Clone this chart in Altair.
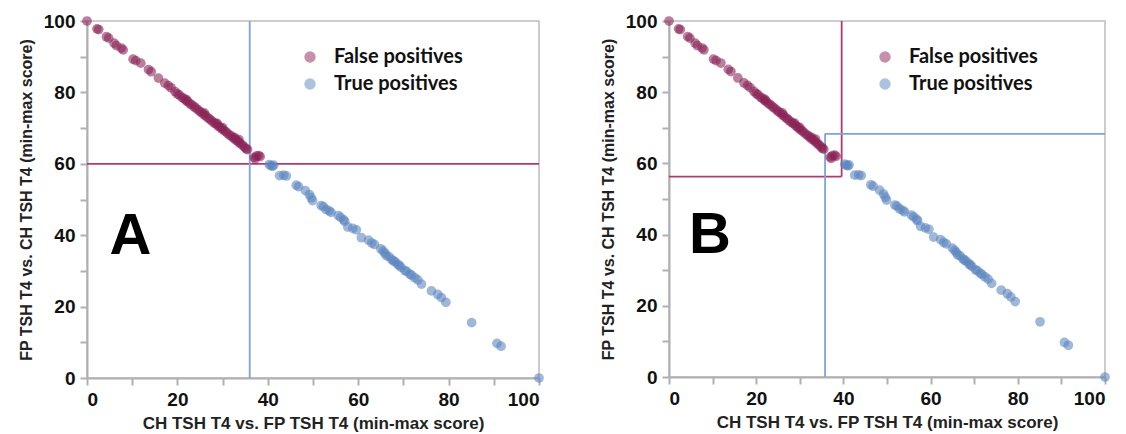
import altair as alt
import pandas as pd

# ---------------- data ----------------
fp_x = [0.0, 2.2, 2.6, 4.3, 4.8, 6.0, 6.5, 7.6, 8.0, 10.2, 10.8, 11.9, 13.6, 14.2, 15.8,
        17.2, 18.0, 18.6, 19.5, 20.0, 20.4, 21.0, 21.4, 21.9, 22.3, 22.8, 23.2, 23.7,
        24.1, 24.6, 25.0, 25.4, 25.9, 26.3, 26.8, 27.2, 27.6, 28.1, 28.5, 29.0, 29.4,
        29.8, 30.3, 30.7, 31.1, 31.6, 32.0, 32.4, 32.9, 33.3, 33.7, 34.1, 34.5, 34.9,
        35.2, 35.5, 32.7, 33.6, 28.8, 22.0, 26.0, 30.0, 37.0, 37.5, 38.0, 37.2, 38.3]
fp_y = [100.0, 97.8, 97.6, 95.6, 95.2, 93.8, 93.1, 92.4, 91.9, 89.3, 88.9, 88.2, 86.4,
        85.8, 84.0, 82.6, 81.9, 81.3, 80.2, 79.6, 79.3, 78.6, 78.3, 77.7, 77.4, 76.8,
        76.5, 76.0, 75.6, 75.1, 74.6, 74.3, 73.7, 73.4, 72.8, 72.5, 72.0, 71.5, 71.2,
        70.6, 70.3, 69.8, 69.3, 69.0, 68.5, 68.0, 67.7, 67.2, 66.7, 66.4, 65.9, 65.5,
        65.1, 64.6, 64.2, 64.0, 67.3, 66.8, 71.3, 78.0, 74.2, 70.1, 61.8, 62.2, 62.3,
        61.4, 62.0]

tp_x = [40.3, 40.7, 41.0, 41.3, 42.6, 43.5, 44.1, 46.3, 46.8, 48.3, 49.2, 49.6, 49.9,
        51.8, 52.3, 52.9, 53.6, 54.0, 55.6, 56.1, 56.8, 57.0, 57.7, 58.8, 59.6, 60.7,
        62.3, 63.0, 63.6, 65.0, 65.5, 65.9, 66.2, 66.8, 67.4, 67.8, 68.2, 68.8, 69.1,
        69.5, 70.3, 70.7, 71.4, 71.8, 72.5, 73.2, 74.0, 76.2, 77.6, 78.4, 79.4, 85.1,
        90.7, 91.6, 100.0]
tp_y = [59.8, 59.5, 59.3, 59.6, 56.7, 56.8, 56.6, 54.0, 53.6, 52.5, 51.4, 50.5, 49.7,
        48.3, 48.0, 47.2, 46.8, 46.4, 45.5, 45.0, 44.3, 43.9, 42.3, 41.9, 41.5, 39.3,
        38.6, 37.8, 37.4, 36.2, 35.6, 35.0, 34.3, 34.0, 33.2, 32.8, 32.5, 31.8, 31.5,
        31.0, 30.1, 29.9, 29.1, 28.8, 28.1, 27.5, 26.3, 24.4, 23.4, 22.5, 21.2, 15.5,
        9.7, 8.9, 0.0]

groups = ["False positives", "True positives"]

# cut-offs
a_fp_cut_y = 60.0
a_tp_cut_x = 36.0
b_fp_cut = (39.6, 56.3)   # (x, y)
b_tp_cut = (35.8, 68.3)   # (x, y)

panel_letters = ["A", "B"]
letter_pos = [(9.6, 34.7), (9.4, 34.7)]

x_title = "CH TSH T4 vs. FP TSH T4 (min-max score)"
y_title = "FP TSH T4 vs. CH TSH T4 (min-max score)"

# ---------------- styling ----------------
MAROON = "#8a2256"
BLUE = "#5a85bf"
MAROON_LINE = "#b03a70"
BLUE_LINE = "#7ea3d8"

points_df = pd.DataFrame({
    "x": fp_x + tp_x,
    "y": fp_y + tp_y,
    "group": [groups[0]] * len(fp_x) + [groups[1]] * len(tp_x),
})

tick_vals = list(range(0, 101, 10))
label_expr = "datum.value % 20 === 0 ? datum.label : ''"

def axis_common(title_size):
    return dict(values=tick_vals, labelExpr=label_expr, grid=False,
                labelFont="Liberation Sans", labelFontWeight="bold", labelFontSize=19,
                labelColor="#111", titleFont="Liberation Sans", titleFontWeight="bold",
                titleFontSize=title_size, titleColor="#222", domainColor="#b0b0b0",
                domainWidth=2, tickColor="#b0b0b0", tickWidth=2, tickSize=7,
                labelPadding=5)

scale = alt.Scale(domain=[0, 100], nice=False, zero=False)

def X(field="x"):
    return alt.X(f"{field}:Q", scale=scale, title=x_title,
                 axis=alt.Axis(titlePadding=6, **axis_common(17)))

def Y(field="y"):
    return alt.Y(f"{field}:Q", scale=scale, title=y_title,
                 axis=alt.Axis(titlePadding=9, **axis_common(16)))


def panel(idx, w, h, seg_fp, seg_tp, legend_x):
    pts = alt.Chart(points_df).mark_circle(size=95, opacity=0.58).encode(
        x=X(), y=Y(),
        color=alt.Color("group:N", scale=alt.Scale(domain=groups, range=[MAROON, BLUE]),
                        legend=alt.Legend(title=None, orient="none", legendX=legend_x,
                                          legendY=26, labelFont="Lato",
                                          labelFontWeight="bold", labelFontSize=20,
                                          labelColor="#111", symbolSize=130,
                                          symbolOpacity=0.5, symbolStrokeWidth=0,
                                          labelOffset=14, rowPadding=7)),
    )
    fp_rules = alt.Chart(pd.DataFrame(seg_fp)).mark_rule(
        color=MAROON_LINE, strokeWidth=1.8).encode(x=X(), x2="x2:Q", y=Y(), y2="y2:Q")
    tp_rules = alt.Chart(pd.DataFrame(seg_tp)).mark_rule(
        color=BLUE_LINE, strokeWidth=1.8).encode(x=X(), x2="x2:Q", y=Y(), y2="y2:Q")
    lx, ly = letter_pos[idx]
    letter = alt.Chart(pd.DataFrame({"x": [lx], "y": [ly], "t": [panel_letters[idx]]})).mark_text(
        font="Liberation Sans", fontWeight="bold", fontSize=58, color="black",
        align="center", baseline="alphabetic").encode(x=X(), y=Y(), text="t:N")
    return alt.layer(fp_rules, tp_rules, pts, letter).properties(width=w, height=h)


seg_a_fp = {"x": [0.0], "x2": [100.0], "y": [a_fp_cut_y], "y2": [a_fp_cut_y]}
seg_a_tp = {"x": [a_tp_cut_x], "x2": [a_tp_cut_x], "y": [0.0], "y2": [100.0]}
seg_b_fp = {"x": [b_fp_cut[0], 0.0], "x2": [b_fp_cut[0], b_fp_cut[0]],
            "y": [b_fp_cut[1], b_fp_cut[1]], "y2": [100.0, b_fp_cut[1]]}
seg_b_tp = {"x": [b_tp_cut[0], b_tp_cut[0]], "x2": [b_tp_cut[0], 100.0],
            "y": [0.0, b_tp_cut[1]], "y2": [b_tp_cut[1], b_tp_cut[1]]}

pa = panel(0, 452, 357, seg_a_fp, seg_a_tp, 213)
pb = panel(1, 436, 356, seg_b_fp, seg_b_tp, 206)

chart = alt.hconcat(pa, pb, spacing=54).resolve_scale(color="independent").resolve_legend(
    color="independent").properties(
    padding={"left": 17, "top": 11, "right": 5, "bottom": 5},
    background="white",
).configure_view(stroke="#bdbdbd", strokeWidth=1.5)

chart.save("out.html", embed_options={"renderer": "svg", "actions": False})
